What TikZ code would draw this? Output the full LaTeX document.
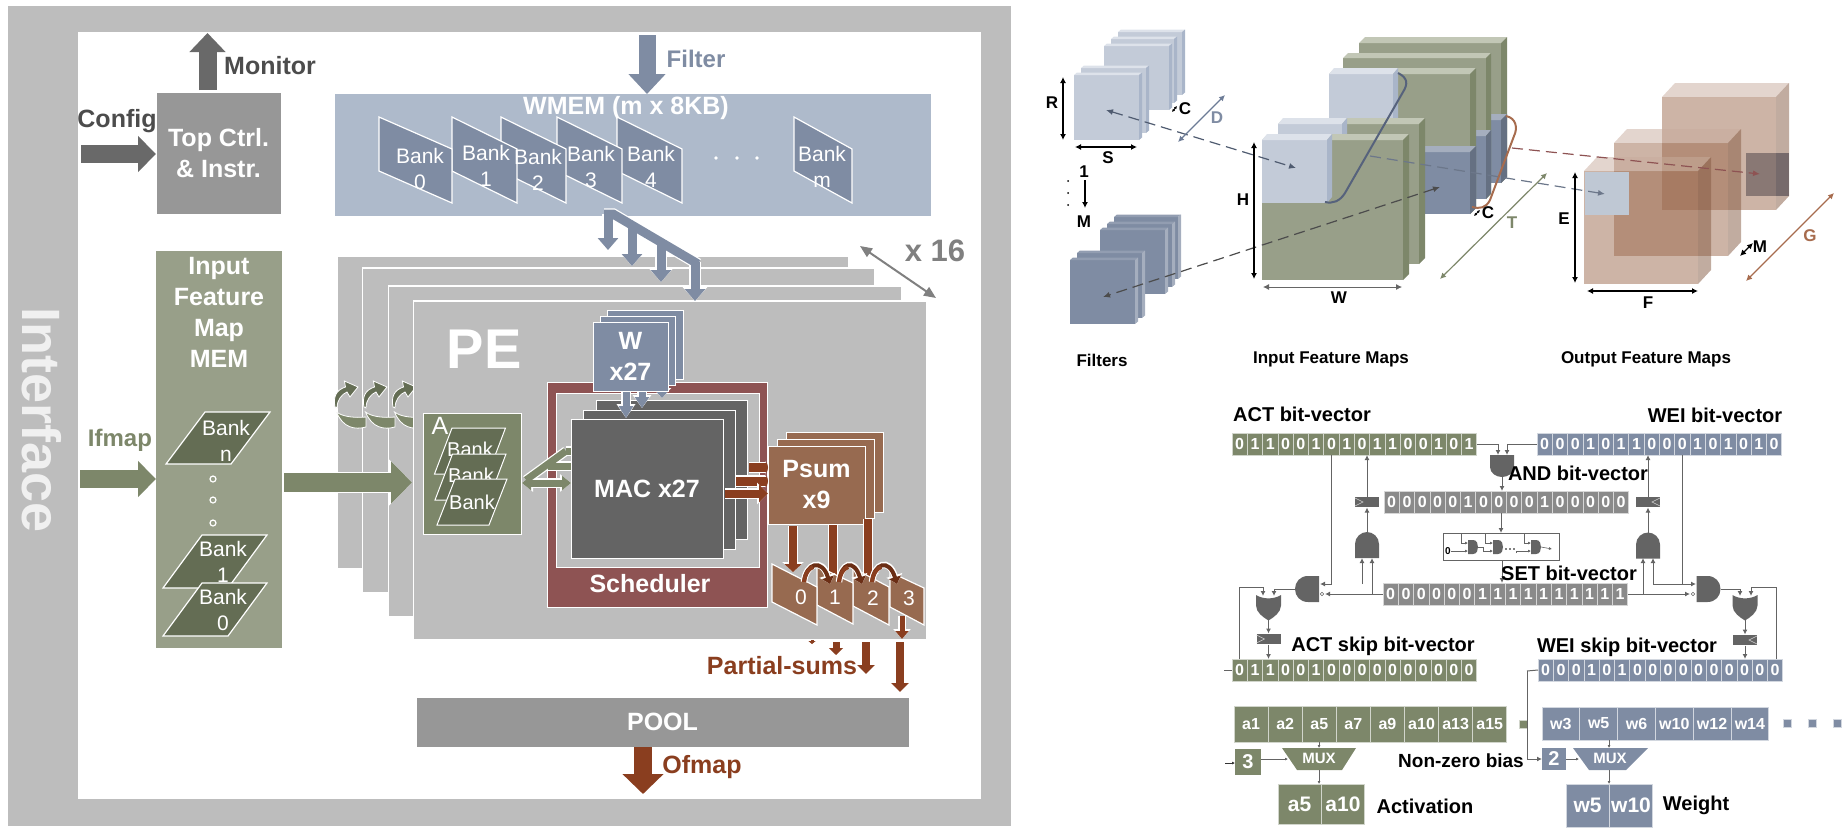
\documentclass[tikz,border=0pt]{standalone}
\usepackage{fontspec}
\setmainfont{Liberation Sans}
\usetikzlibrary{arrows.meta}
\definecolor{framegray}{HTML}{BDBDBD}
\definecolor{ctrlgray}{HTML}{979797}
\definecolor{macgray}{HTML}{646464}
\definecolor{arrowgray}{HTML}{696969}
\definecolor{wblue}{HTML}{7F8CA3}
\definecolor{wmemblue}{HTML}{AEBACB}
\definecolor{ifgreen}{HTML}{989F89}
\definecolor{agreen}{HTML}{7D876A}
\definecolor{bankgreen}{HTML}{646D54}
\definecolor{schedred}{HTML}{8E5353}
\definecolor{psumbrown}{HTML}{976A50}
\definecolor{sumred}{HTML}{8A3E1F}
\definecolor{sumdark}{HTML}{6B2E15}
\definecolor{lightblue}{HTML}{C3CBD8}
\definecolor{lighttop}{HTML}{DDE2EA}
\definecolor{lightside}{HTML}{A9B5C9}
\definecolor{greentop}{HTML}{C2C7B6}
\definecolor{curvebrown}{HTML}{A76C4E}
\definecolor{cubeface}{HTML}{9B694D}
\definecolor{andgray}{HTML}{8A8A8A}
\definecolor{patchdark}{HTML}{897874}
\definecolor{patchside}{HTML}{766A6B}
\definecolor{patchblue}{HTML}{BFC8D4}
\definecolor{dashblue}{HTML}{4F5B70}
\definecolor{curveblue}{HTML}{56627C}
\definecolor{dimblue}{HTML}{6C7B96}
\newcommand{\fs}[1]{\fontsize{#1}{#1}\selectfont}
\newcommand{\fat}[5]{%
	\pgfmathsetmacro{\fatA}{#2+2.5}\pgfmathsetmacro{\fatB}{#3+4}\pgfmathsetmacro{\fatC}{#4+2}
	\draw[white,line width=\fatA pt,line join=miter,-{Triangle[length=\fatC pt,width=\fatB pt]}] #5;
	\draw[#1,line width=#2pt,line join=miter,-{Triangle[length=#4pt,width=#3pt]}] #5;}
\newcommand{\slab}[9]{%
	\fill[#7] (#1,#2) rectangle (#3,#4);
	\fill[#8] (#1,#2) -- ({#1+#5},{#2-#6}) -- ({#3+#5},{#2-#6}) -- (#3,#2) -- cycle;
	\fill[#9] (#3,#2) -- ({#3+#5},{#2-#6}) -- ({#3+#5},{#4-#6}) -- (#3,#4) -- cycle;}
\newcommand{\wbank}[3]{%
	\draw[white,line width=1.2pt,fill=wblue] (#1,117) -- ({#1+#2},149) -- ({#1+#2},203) -- (#1,171) -- cycle;}
\newcommand{\curly}[1]{%
	\fill[bankgreen,draw=white,line width=.8pt,shift={(#1,382)}] (2,25) .. controls (0,15) and (3,8) .. (12.5,5) -- (11.4,-1) -- (25,5) -- (17,15) -- (14,10) .. controls (9,12) and (4,18) .. (4,26) -- cycle;
	\fill[agreen,draw=white,line width=.8pt,shift={(#1,382)}] (3.5,30) .. controls (10,35) and (22,36) .. (33,35) -- (33,45) .. controls (22,48) and (10,46) .. (3.5,30) -- cycle;}
\newcommand{\cellrow}[8]{%
	\foreach \b [count=\i from 0] in {#8}
		\node[bitcell=#6,minimum width=#4pt,minimum height=#5pt,font=\fs{#7}\bfseries] (#1\i) at ({#2+#4*(\i+.5)},#3) {\b};}
\newcommand{\dimarrow}[4]{%
	\coordinate (#1a) at (#2);
	\coordinate (#1b) at (#3);
	\draw[dimline,#4] (#1a) -- (#1b);}
% gates: an invisible node gives the anchors, the path gives the outline
\newcommand{\anddown}[3]{\fill[macgray,shift={(#2,#3)}] (-12,-11) -- (12,-11) -- (12,1) .. controls (12,7) and (6,11) .. (0,11) .. controls (-6,11) and (-12,7) .. (-12,1) -- cycle;
	\node[gatepin,minimum width=24pt,minimum height=22pt] (#1) at (#2,#3) {};}
\newcommand{\andup}[3]{\fill[macgray,shift={(#2,#3)}] (-12,13) -- (12,13) -- (12,-1) .. controls (12,-8) and (6,-13) .. (0,-13) .. controls (-6,-13) and (-12,-8) .. (-12,-1) -- cycle;
	\node[gatepin,minimum width=24pt,minimum height=26pt] (#1) at (#2,#3) {};}
\newcommand{\andleft}[3]{\fill[macgray,shift={(#2,#3)}] (12,-13) -- (12,13) -- (1,13) .. controls (-7,13) and (-12,7) .. (-12,0) .. controls (-12,-7) and (-7,-13) .. (1,-13) -- cycle;
	\node[gatepin,minimum width=24pt,minimum height=26pt] (#1) at (#2,#3) {};}
\newcommand{\andright}[3]{\fill[macgray,shift={(#2,#3)}] (-12,-13) -- (-12,13) -- (-1,13) .. controls (7,13) and (12,7) .. (12,0) .. controls (12,-7) and (7,-13) .. (-1,-13) -- cycle;
	\node[gatepin,minimum width=24pt,minimum height=26pt] (#1) at (#2,#3) {};}
\newcommand{\orgate}[3]{\fill[macgray,shift={(#2,#3)}] (-12.5,-12.5) .. controls (-5,-8) and (5,-8) .. (12.5,-12.5) -- (12.5,-2) .. controls (12.5,5) and (5,10) .. (0,13) .. controls (-5,10) and (-12.5,5) .. (-12.5,-2) -- cycle;
	\node[gatepin,minimum width=25pt,minimum height=25pt] (#1) at (#2,#3) {};}
\newcommand{\tinyand}[3]{\fill[macgray,shift={(#2,#3)}] (-5,-7) -- (0,-7) .. controls (4,-7) and (5,-3) .. (5,0) .. controls (5,3) and (4,7) .. (0,7) -- (-5,7) -- cycle;
	\node[gatepin,minimum width=10pt,minimum height=14pt] (#1) at (#2,#3) {};}
\newcommand{\flop}[4]{\node[fill=macgray,draw=white,line width=.5pt,minimum width=25pt,minimum height=11pt,inner sep=0pt,outer sep=0pt] (#1) at (#2,#3) {};
	\draw[white!70!macgray,line width=.6pt,shift={(#2,#3)}] (#4*12,-4) -- (#4*4,0) -- (#4*12,4);}

\begin{document}
\begin{tikzpicture}[x=1pt,y=-1pt,
	block/.style n args={3}{fill=#1,draw=white,line width=1pt,minimum width=#2,minimum height=#3,inner sep=0pt,outer sep=0pt,text=white,font=\fontsize{25}{31}\selectfont\bfseries,align=center},
	banktext/.style={text=white,font=\fontsize{21}{26}\selectfont,align=center,inner sep=0pt},
	title/.style={font=\fs{#1}\bfseries,inner sep=0pt},
	bitcell/.style={fill=#1,draw=white!65!#1,line width=.7pt,inner sep=0pt,outer sep=0pt,text=white},
	gatepin/.style={inner sep=0pt,outer sep=0pt},
	wire/.style={macgray,line width=1pt,-{Latex[length=5pt,width=5pt]}},
	swire/.style={macgray,line width=.6pt,-{Latex[length=3pt,width=3pt]}},
	dimline/.style={black,line width=1.2pt,{Latex[length=6pt,width=6pt]}-{Latex[length=6pt,width=6pt]}},
	dashline/.style={line width=1.2pt,dash pattern=on 11pt off 6pt,-{Latex[length=7pt,width=6pt]}},
	dashboth/.style={line width=1.2pt,dash pattern=on 11pt off 6pt,{Latex[length=7pt,width=6pt]}-{Latex[length=7pt,width=6pt]}}]
	\useasboundingbox (0,0) rectangle (1842,833);
	% accelerator
	\fill[framegray] (8,6) rectangle (1011,826);
	\fill[white] (78,32) rectangle (981,799);
	\node[rotate=-90,text=white!78!framegray,font=\fs{54}\bfseries,inner sep=0pt] (iface) at (42,420) {Interface};
	\node[block={ctrlgray}{125pt}{122pt}] (topctrl) at (218.5,153) {Top Ctrl.\\\& Instr.};
	\coordinate (montip) at (207.5,33);
	\draw[arrowgray,line width=18pt,-{Triangle[length=19pt,width=35pt]}] ([xshift=-11pt,yshift=2pt]topctrl.north) -- (montip);
	\node[title=25,text=black!70] (monitor) at (270,66) {Monitor};
	\node[title=25,text=black!70] (config) at (117,121) {Config};
	\coordinate (cfgstart) at (81,154);
	\draw[arrowgray,line width=18pt,-{Triangle[length=18pt,width=35pt]}] (cfgstart) -- (topctrl.west |- cfgstart);
	% WMEM
	\node[block={wmemblue}{596pt}{122pt},draw=none] (wmem) at (633,155) {};
	\node[font=\fs{25}\bfseries,text=white,inner sep=0pt] (wmemtxt) at (626,108) {WMEM (m x 8KB)};
	\coordinate (filtop) at (647,35);
	\draw[wblue,line width=17pt,-{Triangle[length=20pt,width=36pt]}] (filtop) -- ([xshift=14pt]wmem.north);
	\node[font=\fs{24}\bfseries,text=wblue,inner sep=0pt] (filter) at (696,59) {Filter};
	\wbank{794}{58}{}
	\wbank{617}{65}{}
	\wbank{557}{65}{}
	\wbank{501}{65}{}
	\wbank{452}{65}{}
	\wbank{379}{73}{}
	\node[banktext] (bk0) at (420,169) {Bank\\0};
	\node[banktext] (bk1) at (486,166) {Bank\\1};
	\node[banktext] (bk2) at (538,170) {Bank\\2};
	\node[banktext] (bk3) at (591,167) {Bank\\3};
	\node[banktext] (bk4) at (651,167) {Bank\\4};
	\node[banktext] (bkm) at (822,167) {Bank\\m};
	\foreach \d in {716,737,757}
		\fill[white] (\d,158) circle (1.8);
	% PE stack
	\fill[framegray,draw=white,line width=1pt] (337.5,256) rectangle (848,568);
	\fill[framegray,draw=white,line width=1.5pt] (362.5,268) rectangle (875,593);
	\fill[framegray,draw=white,line width=1.5pt] (388.5,286) rectangle (902,617);
	\curly{333}
	\curly{362}
	\curly{391}
	\fill[framegray,draw=white,line width=1.5pt] (413.5,301) rectangle (927,640);
	\node[font=\fs{56}\bfseries,text=white,inner sep=0pt] (pe) at (484,349) {PE};
	% x 16
	\node[font=\fs{31}\bfseries,text=black!50,inner sep=0pt] (xsixteen) at (935,251) {x 16};
	\coordinate (xa) at (860,246);
	\coordinate (xb) at (936,298);
	\draw[black!50,line width=2pt,{Triangle[length=12pt,width=10pt]}-{Triangle[length=12pt,width=10pt]}] (xa) -- (xb);
	% WMEM to PE bus
	\foreach \lw/\cc/\hw/\hl in {11.5/white/24/14,9/wblue/20/12}{
		\draw[\cc,line width=\lw pt,line join=miter] (604,214) -- (613,214) -- (698,264);
		\foreach \bx/\by/\ey in {608/214/250,632/228/266,661/245/282,695/262/301}
			\draw[\cc,line width=\lw pt,-{Triangle[length=\hl pt,width=\hw pt]}] (\bx,\by) -- (\bx,\ey);
	}
	% scheduler, MAC, W
	\node[block={schedred}{220pt}{225pt}] (sched) at (657,494.5) {};
	\node[block={framegray}{203pt}{174pt}] (schedin) at (657.5,480) {};
	\node[font=\fs{25}\bfseries,text=white,inner sep=0pt] (schedtxt) at (650,584) {Scheduler};
	\node[block={macgray}{151pt}{139pt}] (mac3) at (671.5,469.5) {};
	\node[block={macgray}{152pt}{139pt}] (mac2) at (659,479.5) {};
	\node[block={wblue}{76pt}{69pt}] (w3) at (645,344.5) {};
	\node[block={wblue}{75pt}{69pt}] (w2) at (637.5,350.5) {};
	\foreach \ax/\ay/\hh in {662/398/8,642/408/11,626/418/12}
		\fat{wblue}{7}{14}{\hh}{(\ax,391) -- (\ax,\ay)}
	\node[block={wblue}{75pt}{69pt}] (w1) at (630.5,356.5) {W\\x27};
	\node[block={macgray}{152pt}{139pt}] (mac1) at (647,488.5) {MAC x27};
	% A buffer
	\node[block={agreen}{98pt}{121pt}] (abuf) at (472,473.5) {};
	\node[banktext,anchor=center,font=\fs{25}] (atxt) at (440,426) {A};
	\draw[white,line width=1pt,fill=bankgreen] (452,428) -- (505.5,428) -- (488,474) -- (434.5,474) -- cycle;
	\node[banktext,font=\fs{20}] (ab1) at (470,449) {Bank};
	\draw[white,line width=1pt,fill=bankgreen] (452.5,454) -- (506,454) -- (488.5,500) -- (435,500) -- cycle;
	\node[banktext,font=\fs{20}] (ab2) at (471,475) {Bank};
	\draw[white,line width=1pt,fill=bankgreen] (455,479) -- (507,479) -- (489,525) -- (437,525) -- cycle;
	\node[banktext,font=\fs{20}] (ab3) at (472,502) {Bank};
	% feature map
	\node[block={ifgreen}{126pt}{397pt},draw=none,anchor=north] (ifm) at (219,251) {};
	\node[block={ifgreen}{126pt}{120pt},draw=none,fill=none,anchor=north] (ifmtxt) at (219,252) {Input\\Feature\\Map\\MEM};
	\draw[white,line width=1.2pt,fill=bankgreen] (205,412) -- (270,412) -- (231,464) -- (166,464) -- cycle;
	\node[banktext] (ifn) at (226,441) {Bank\\n};
	\foreach \d in {479,500,523}
		\draw[white,line width=1.2pt] (213,\d) circle (3);
	\draw[white,line width=1.2pt,fill=bankgreen] (202,535) -- (267,535) -- (228,588) -- (163,588) -- cycle;
	\node[banktext] (if1) at (223,562) {Bank\\1};
	\draw[white,line width=1.2pt,fill=bankgreen] (202,583) -- (267,583) -- (228,636) -- (163,636) -- cycle;
	\node[banktext] (if0) at (223,610) {Bank\\0};
	% input arrows
	\coordinate (ifstart) at (80,479);
	\draw[agreen,line width=18pt,-{Triangle[length=18pt,width=35pt]}] (ifstart) -- (ifm.west |- ifstart);
	\node[font=\fs{24}\bfseries,text=agreen,inner sep=0pt] (ifmap) at (120,440) {Ifmap};
	\fat{agreen}{19}{41}{21}{(ifm.east |- abuf.center) ++(2,9) -- ++(128,0)}
	% A and MAC
	\foreach \lw/\cc/\hw/\hl in {9.5/white/17/11,7/agreen/14/9}{
		\draw[\cc,line width=\lw pt] (526,480) -- (566,451);
		\draw[\cc,line width=\lw pt] (566,451) -- (mac1.west |- 0,451);
		\draw[\cc,line width=\lw pt] (548,466) -- (mac1.west |- 0,466);
		\draw[\cc,line width=\lw pt,{Triangle[length=\hl pt,width=\hw pt]}-{Triangle[length=\hl pt,width=\hw pt]}] (522,483) -- (mac1.west |- 0,483);
	}
	% Psum
	\node[block={psumbrown}{97pt}{80pt}] (psum3) at (834.5,472) {};
	\node[block={psumbrown}{97pt}{79pt}] (psum2) at (825.5,478.5) {};
	\node[block={psumbrown}{97pt}{78pt}] (psum1) at (816.5,485) {Psum\\x9};
	\fat{sumred}{9}{9}{1}{(749,467.5) -- (psum1.west |- 0,467.5)}
	\fat{sumred}{9}{9}{1}{(736,481) -- (psum1.west |- 0,481)}
	\fat{sumred}{8}{17}{9}{(725,493.5) -- (psum1.west |- 0,493.5)}
	% partial sums
	\fat{sumred}{8}{17}{8}{(793,526) -- (793,572)}
	\fat{sumred}{8}{17}{8}{(833,525) -- (833,583)}
	\fat{sumred}{8}{17}{8}{(868,519) -- (868,583)}
	\draw[white,line width=1.2pt,fill=psumbrown] (890,572) -- (924,588) -- (924,625) -- (890,607) -- cycle;
	\draw[white,line width=1.2pt,fill=psumbrown] (853,568) -- (889,587) -- (889,625) -- (853,606) -- cycle;
	\draw[white,line width=1.2pt,fill=psumbrown] (817,566) -- (853,583) -- (853,624) -- (817,605) -- cycle;
	\draw[white,line width=1.2pt,fill=psumbrown] (772,564) -- (817,587) -- (817,625) -- (772,602) -- cycle;
	\node[banktext] (ps0) at (801,597) {0};
	\node[banktext] (ps1) at (835,597) {1};
	\node[banktext] (ps2) at (873,598) {2};
	\node[banktext] (ps3) at (909,598) {3};
	\foreach \sx/\ex in {804/830,839/862,872/897}{
		\fat{sumdark}{4}{12}{7}{(\sx,582) .. controls ({\sx+2},563) and ({\ex-8},558) .. (\ex,584)}
		\draw[sumred,line width=4pt] (\sx,582) .. controls ({\sx+1},574) and ({\sx+4},569) .. ({\sx+9},567);
	}
	\fat{sumred}{5}{13}{8}{(902,616) -- (902,639)}
	\fat{sumred}{3}{7}{3}{(812,640) -- (812,644)}
	\fat{sumred}{7}{14}{7}{(836,642) -- (836,655)}
	\fat{sumred}{8}{17}{9}{(866,642) -- (866,674)}
	\fat{sumred}{8}{17}{9}{(900,642) -- (900,692)}
	\node[font=\fs{25}\bfseries,text=sumred,inner sep=0pt] (partial) at (782,666) {Partial-sums};
	\node[block={ctrlgray}{493pt}{50pt}] (pool) at (662.5,722) {POOL};
	\coordinate (oftip) at (643,794);
	\draw[sumred,line width=18pt,-{Triangle[length=20pt,width=40pt]}] ([xshift=-19.5pt]pool.south) -- (oftip);
	\node[font=\fs{25}\bfseries,text=sumred,inner sep=0pt] (ofmap) at (702,767) {Ofmap};

	% filters
	\slab{1118}{32}{1182}{95}{3}{2.5}{lightblue}{lighttop}{lightside}
	\slab{1111}{39}{1174}{103}{3}{2.5}{lightblue}{lighttop}{lightside}
	\slab{1104}{46}{1169}{110}{3}{2.5}{lightblue}{lighttop}{lightside}
	\slab{1081}{68}{1146}{133}{3}{2.5}{lightblue}{lighttop}{lightside}
	\slab{1074}{75}{1139}{140}{3}{2.5}{lightblue}{lighttop}{lightside}
	\slab{1114}{217}{1178}{279}{3}{2.5}{wblue}{wblue!85!white}{wblue!70!white}
	\slab{1107}{224}{1172}{287}{3}{2.5}{wblue}{wblue!85!white}{wblue!70!white}
	\slab{1100}{230}{1165}{294}{3}{2.5}{wblue}{wblue!85!white}{wblue!70!white}
	\slab{1077}{253}{1142}{318}{3}{2.5}{wblue}{wblue!85!white}{wblue!70!white}
	\slab{1070}{260}{1135}{324}{3}{2.5}{wblue}{wblue!85!white}{wblue!70!white}
	% input feature maps
	\slab{1359}{43}{1501}{183}{6}{6}{ifgreen}{greentop}{agreen}
	\slab{1480}{120}{1501}{183}{6}{6}{wblue}{wblue!70!white}{wblue!80!black}
	\slab{1343}{58}{1486}{199}{5}{5}{ifgreen}{greentop}{agreen}
	\slab{1465}{136}{1486}{199}{5}{6}{wblue}{wblue!70!white}{wblue!80!black}
	\slab{1329}{74}{1470}{214}{6}{6}{ifgreen}{greentop}{agreen}
	\slab{1406}{152}{1470}{214}{6}{6}{wblue}{wblue!70!white}{wblue!80!black}
	\slab{1329}{74}{1393}{138}{5}{6}{lightblue}{lighttop}{lightside}
	\slab{1278}{124}{1419}{264}{6}{6}{ifgreen}{greentop}{agreen}
	\slab{1278}{124}{1342}{188}{5}{6}{lightblue}{lighttop}{lightside}
	\slab{1262}{140}{1403}{280}{6}{6}{ifgreen}{greentop}{agreen}
	\slab{1262}{140}{1327}{203}{5}{6}{lightblue}{lighttop}{lightside}
	% output feature maps
	\begin{scope}[opacity=.5]
		\foreach \cx/\cy in {1662/97,1614/143,1584/171}{
			\fill[cubeface] (\cx,\cy) rectangle ({\cx+114},{\cy+113});
			\fill[cubeface!55!white] (\cx,\cy) -- ({\cx+13},{\cy-14}) -- ({\cx+127},{\cy-14}) -- ({\cx+114},\cy) -- cycle;
			\fill[cubeface!85!black] ({\cx+114},\cy) -- ({\cx+127},{\cy-14}) -- ({\cx+127},{\cy+99}) -- ({\cx+114},{\cy+113}) -- cycle;
		}
	\end{scope}
	\fill[patchdark] (1746,153) rectangle (1776,196);
	\fill[patchside] (1776,153) rectangle (1789,196);
	\fill[patchblue] (1585,172) rectangle (1629,215);
	% tensor curves and dashed lines
	\coordinate (fila) at (1106,110);
	\coordinate (filb) at (1296,168);
	\draw[dashboth,dashblue] (fila) -- (filb);
	\coordinate (darka) at (1440,187);
	\coordinate (darkb) at (1103,297);
	\draw[dashboth,black!70] (darka) -- (darkb);
	\draw[curveblue,line width=2pt] (1398,73) .. controls (1408,78) and (1408,84) .. (1403,92) -- (1345,193) .. controls (1340,201) and (1333,204) .. (1325,202);
	\draw[curvebrown,line width=2pt] (1506,116) .. controls (1516,118) and (1518,128) .. (1514,136) -- (1490,200) .. controls (1486,208) and (1480,209) .. (1472,207);
	\coordinate (blueda) at (1370,156);
	\coordinate (bluedb) at (1605,194);
	\draw[dashline,wblue!85!black] (blueda) -- (bluedb);
	\coordinate (redda) at (1512,148);
	\coordinate (reddb) at (1760,174);
	\draw[dashline,schedred] (redda) -- (reddb);
	% dimensions
	\dimarrow{dimr}{1063,77}{1063,140}{}
	\dimarrow{dims}{1075,147}{1137,147}{}
	\dimarrow{dimc}{1172,112}{1177,106}{line width=1pt,{Latex[length=3pt,width=3pt]}-{Latex[length=3pt,width=3pt]}}
	\dimarrow{dimd}{1225,95}{1178,142}{dimblue}
	\dimarrow{dimh}{1254,142}{1254,279}{}
	\dimarrow{dimw}{1263,287}{1402,287}{black!60,line width=.8pt}
	\dimarrow{dimct}{1474,216}{1480,210}{line width=1pt,{Latex[length=3pt,width=3pt]}-{Latex[length=3pt,width=3pt]}}
	\dimarrow{dimt}{1547,173}{1440,279}{agreen}
	\dimarrow{dime}{1575,172}{1575,283}{}
	\dimarrow{dimf}{1587,291}{1698,291}{}
	\dimarrow{dimm}{1740,256}{1753,243}{}
	\dimarrow{dimg}{1834,193}{1746,281}{curvebrown}
	\coordinate (ma) at (1085,180);
	\coordinate (mb) at (1085,208);
	\draw[line width=1.2pt,-{Latex[length=6pt,width=6pt]}] (ma) -- (mb);
	\foreach \d in {181,193,205}
		\fill[black] (1068,\d) circle (1);
	\node[title=17] (labr) at (1052,103) {R};
	\node[title=17] (labs) at (1108,158) {S};
	\node[title=17] (labc) at (1185,109) {C};
	\node[title=17,text=wblue] (labd) at (1217,118) {D};
	\node[title=17] (labone) at (1084,172) {1};
	\node[title=17] (labm) at (1084,222) {M};
	\node[title=17] (labh) at (1243,200) {H};
	\node[title=17] (labw) at (1339,298) {W};
	\node[title=17] (labcc) at (1488,213) {C};
	\node[title=17,text=agreen] (labt) at (1512,223) {T};
	\node[title=17] (labe) at (1564,219) {E};
	\node[title=17] (labf) at (1648,303) {F};
	\node[title=17] (labmm) at (1760,247) {M};
	\node[title=17,text=curvebrown] (labg) at (1810,236) {G};
	\node[title=17] (capf) at (1102,360) {Filters};
	\node[title=17] (capi) at (1331,359) {Input Feature Maps};
	\node[title=17] (capo) at (1646,359) {Output Feature Maps};

	% bit vectors
	\node[title=20] (acttxt) at (1302,414) {ACT bit-vector};
	\node[title=20] (weitxt) at (1715,415) {WEI bit-vector};
	\cellrow{act}{1232}{444}{15.3}{22}{agreen}{16}{0,1,1,0,0,1,0,1,0,1,1,0,0,1,0,1}
	\cellrow{wei}{1537}{444}{15.3}{22}{wblue}{16}{0,0,0,1,0,1,1,0,0,0,1,0,1,0,1,0}
	\cellrow{and}{1384}{502}{15.3}{22}{andgray}{16}{0,0,0,0,0,1,0,0,0,0,1,0,0,0,0,0}
	\cellrow{set}{1383}{594}{15.3}{22}{andgray}{16}{0,0,0,0,0,0,1,1,1,1,1,1,1,1,1,1}
	\cellrow{ask}{1232}{670}{15.3}{22}{agreen}{16}{0,1,1,0,0,1,0,0,0,0,0,0,0,0,0,0}
	\cellrow{wsk}{1538}{670}{15.3}{22}{wblue}{16}{0,0,0,1,0,1,0,0,0,0,0,0,0,0,0,0}
	% logic in the middle
	\anddown{gtop}{1502}{466}
	\coordinate (gtopa) at (1498,455);
	\coordinate (gtopb) at (1507,455);
	\draw[wire] (act15.east) -| (gtopa);
	\draw[wire] (wei0.west) -| (gtopb);
	\draw[wire] (gtop.south) -- (gtop.south |- and0.north);
	\node[draw=macgray,fill=white,line width=1pt,minimum width=116pt,minimum height=27pt,inner sep=0pt,outer sep=0pt] (chain) at (1501,546.5) {};
	\coordinate (chaintop) at (1501,513);
	\coordinate (chainbot) at (1502,560);
	\coordinate (chainout) at (1502,583);
	\draw[wire] (chaintop) -- (chain.north);
	\draw[wire] (chainbot) -- (chainout);
	\tinyand{ca}{1473}{547}
	\tinyand{cb}{1498}{547}
	\tinyand{cc}{1536}{547}
	\node[font=\fs{10}\bfseries,inner sep=0pt] (czero) at (1448,551) {0};
	\coordinate (ca1) at (1468,543);
	\coordinate (ca2) at (1468,551);
	\coordinate (cb1) at (1493,543);
	\coordinate (cb2) at (1493,551);
	\coordinate (cc1) at (1531,543);
	\coordinate (cc2) at (1531,551);
	\coordinate (cend) at (1552,549);
	\draw[swire] (1461,533) |- (ca1);
	\draw[swire] (1485,533) |- (cb1);
	\draw[swire] (1524,533) |- (cc1);
	\draw[swire] (czero.east) -- (czero.east -| ca2);
	\draw[swire] (ca.east) -- ++(5,0) |- (cb2);
	\draw[swire] (1516,553) |- (cc2);
	\draw[swire] (cc.east) -- (cend);
	\foreach \d in {1506,1510,1514}
		\fill[black] (\d,549) circle (.8);
	% left logic
	\flop{ffa}{1367}{502}{-1}
	\andup{gla}{1367}{545}
	\draw[wire] (gla.north) -- (ffa.south);
	\draw[wire] (ffa.north) -- (ffa.north |- act0.south);
	\andleft{glb}{1307}{589}
	\coordinate (glb1) at (1320,584);
	\coordinate (glb2) at (1325,594);
	\coordinate (gla1) at (1362,558);
	\coordinate (gla2) at (1372,558);
	\draw[wire] (act6.south) |- (glb1);
	\draw[wire] (1362,584) -- (gla1);
	\draw[wire] (set0.west) -- (glb2);
	\draw[wire] (1372,594) -- (gla2);
	\draw[macgray,fill=white,line width=.5pt] (1322,594) circle (1.8);
	\orgate{gor}{1268.5}{607.5}
	\coordinate (gora) at (1263,596);
	\coordinate (gorb) at (1274,596);
	\draw[wire] (glb.west) -| (gorb);
	\draw[wire] (1239,659) |- (1263,587) -- (gora);
	\flop{ffb}{1268.5}{639}{-1}
	\draw[wire] (gor.south) -- (ffb.north);
	\draw[wire] (ffb.south) -- (ffb.south |- ask0.north);
	\coordinate (askstub) at (1224,670);
	\draw[macgray,line width=1pt] (askstub) -- (ask0.west);
	% right logic
	\flop{ffc}{1648}{502}{1}
	\andup{gra}{1648}{545.5}
	\draw[wire] (gra.north) -- (ffc.south);
	\draw[wire] (ffc.north) -- (ffc.north |- wei0.south);
	\andright{grb}{1708.5}{589}
	\coordinate (grb1) at (1696,584);
	\coordinate (grb2) at (1690,594);
	\coordinate (gra1) at (1653,558);
	\coordinate (gra2) at (1643,558);
	\draw[wire] (1682,455) |- (grb1);
	\draw[wire] (1682,584) -| (gra1);
	\draw[wire] (set15.east) -- (grb2);
	\draw[wire] (1643,594) -- (gra2);
	\draw[macgray,fill=white,line width=.5pt] (1693,594) circle (1.8);
	\orgate{gos}{1745}{607.5}
	\coordinate (gosa) at (1740,596);
	\coordinate (gosb) at (1751,596);
	\draw[wire] (grb.east) -| (gosa);
	\draw[wire] (1776,659) |- (1751,587) -- (gosb);
	\flop{ffd}{1745}{640}{1}
	\draw[wire] (gos.south) -- (ffd.north);
	\draw[wire] (ffd.south) -- (ffd.south |- wsk0.north);
	% texts stay above the logic
	\node[title=20] (andtxt) at (1578,473) {AND bit-vector};
	\node[title=20] (settxt) at (1569,573) {SET bit-vector};
	\node[title=20] (askiptxt) at (1383,646) {ACT skip bit-vector};
	\node[title=20] (wskiptxt) at (1627,647) {WEI skip bit-vector};
	% non-zero values
	\cellrow{av}{1234}{724}{34.1}{36}{agreen}{16}{a1,a2,a5,a7,a9,a10,a13,a15}
	\cellrow{wv}{1542}{723.5}{37.8}{33}{wblue}{16}{w3,w5,w6,w10,w12,w14}
	\node[fill=agreen,draw=white!65!agreen,line width=.6pt,minimum size=8pt,inner sep=0pt] (asq) at (1523,724) {};
	\foreach \d/\n in {1787/a,1812/b,1837/c}
		\node[fill=wblue,draw=white!65!wblue,line width=.6pt,minimum size=8pt,inner sep=0pt] (wsq\n) at (\d,723) {};
	\fill[agreen] (1282,748) -- (1356,748) -- (1342,770) -- (1297,770) -- cycle;
	\node[font=\fs{15}\bfseries,text=white,inner sep=0pt] (muxa) at (1319,758.5) {MUX};
	\fill[wblue] (1573,748) -- (1648,748) -- (1626,770) -- (1589,770) -- cycle;
	\node[font=\fs{15}\bfseries,text=white,inner sep=0pt] (muxw) at (1610,758.5) {MUX};
	\node[block={agreen}{26pt}{26pt},draw=none,font=\fs{20}\bfseries] (three) at (1248,762) {3};
	\node[block={wblue}{24pt}{22pt},draw=none,font=\fs{20}\bfseries] (two) at (1554,759) {2};
	\coordinate (threein) at (1225,763);
	\coordinate (mua) at (1288,759);
	\coordinate (mub) at (1579,759);
	\coordinate (muaa) at (1319,748);
	\coordinate (mubb) at (1609,748);
	\draw[swire,black!80,line width=.8pt] (threein) -- (three.west |- threein);
	\draw[swire,line width=.8pt] (three.east |- mua) -- (mua);
	\draw[swire,line width=.8pt] (two.east) -- (mub);
	\draw[swire,line width=.8pt] (av2.south -| muaa) -- (muaa);
	\draw[swire,line width=.8pt] (wv1.south -| mubb) -- (mubb);
	\node[bitcell=agreen,minimum width=43pt,minimum height=40pt,font=\fs{21}\bfseries] (aout0) at (1299.5,804) {a5};
	\node[bitcell=agreen,minimum width=43pt,minimum height=40pt,font=\fs{21}\bfseries] (aout1) at (1343,804) {a10};
	\node[bitcell=wblue,minimum width=43pt,minimum height=43pt,font=\fs{21}\bfseries] (wout0) at (1587.5,805.5) {w5};
	\node[bitcell=wblue,minimum width=43pt,minimum height=43pt,font=\fs{21}\bfseries] (wout1) at (1631,805.5) {w10};
	\coordinate (muab) at (1319,770);
	\coordinate (mubc) at (1609,770);
	\draw[swire,line width=.8pt] (muab) -- (muab |- aout0.north);
	\draw[swire,line width=.8pt] (mubc) -- (mubc |- wout0.north);
	\node[title=19] (nzb) at (1461,761) {Non-zero bias};
	\node[title=20] (actv) at (1425,806) {Activation};
	\node[title=20] (weig) at (1696,805) {Weight};
	\coordinate (nzturn) at (1527,671);
	\draw[macgray,line width=1pt] (wsk0.west) -- (nzturn);
	\draw[wire] (nzturn) |- (two.west);
\end{tikzpicture}
\end{document}
